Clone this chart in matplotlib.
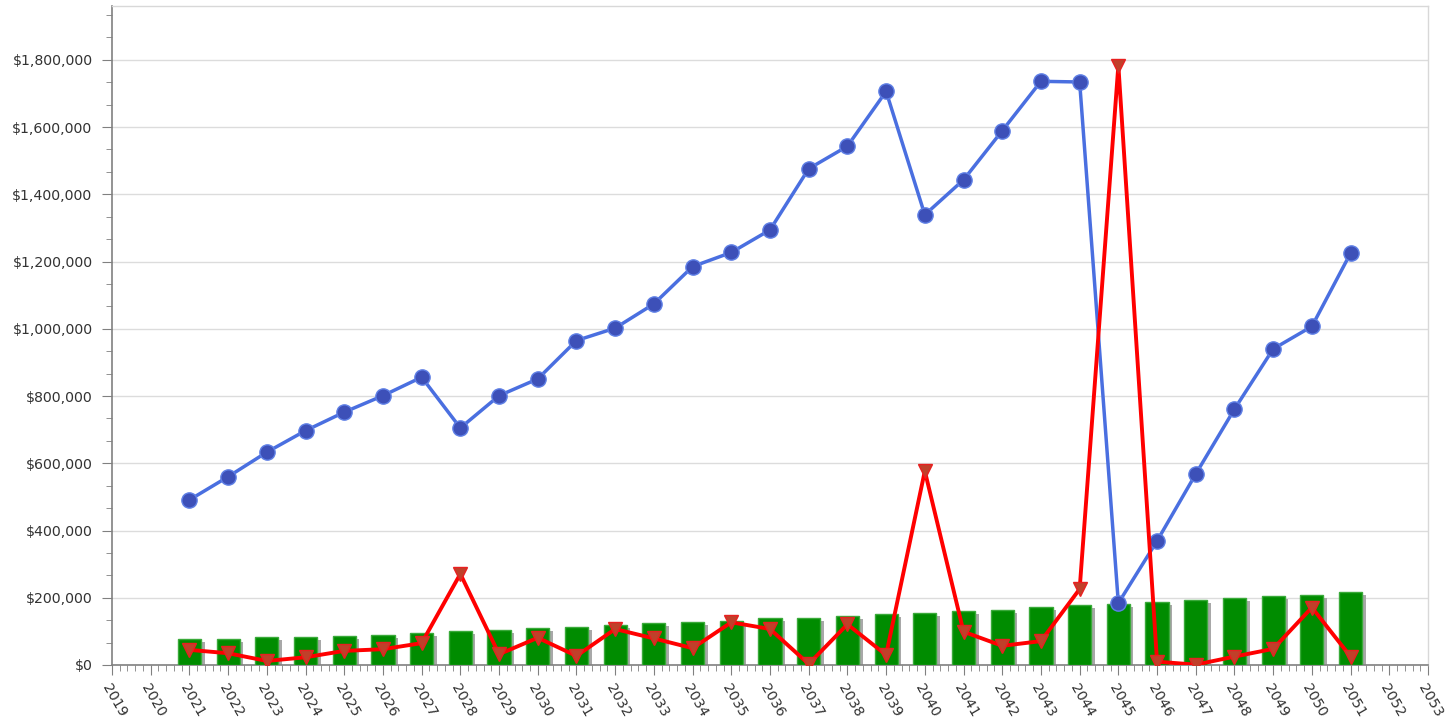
import matplotlib
matplotlib.use("Agg")
import matplotlib.pyplot as plt
from matplotlib.ticker import FuncFormatter, MultipleLocator, AutoMinorLocator
from matplotlib.transforms import offset_copy

years = list(range(2021, 2052))

blue_values = [491000, 560000, 633000, 697000, 752000, 801000, 856000, 705000,
               801000, 851000, 965000, 1002000, 1074000, 1185000, 1227000, 1294000,
               1476000, 1543000, 1706000, 1339000, 1443000, 1589000, 1736000, 1734000,
               184000, 369000, 568000, 761000, 940000, 1007000, 1225000]

red_values = [45000, 35000, 12000, 23000, 42000, 47000, 65000, 271000,
              32000, 81000, 27000, 107000, 79000, 50000, 127000, 107000,
              3000, 121000, 30000, 577000, 99000, 57000, 71000, 226000,
              1783000, 10000, 1000, 25000, 48000, 171000, 25000]

bar_values = [77000, 77000, 82000, 82000, 87000, 89000, 95000, 100000,
              105000, 110000, 114000, 119000, 125000, 127000, 132000, 141000,
              141000, 146000, 151000, 156000, 161000, 164000, 173000, 178000,
              182000, 187000, 193000, 199000, 204000, 209000, 218000]

x_min, x_max = 2019, 2053
y_max = 1960000

fig = plt.figure(figsize=(14.54, 7.26), dpi=100)
ax = fig.add_axes([112/1454, 1-665/726, (1428-112)/1454, (665-6)/726])

# bar shadows
shadow_tr = offset_copy(ax.transData, fig=fig, x=3.5, y=-3, units='dots')
ax.bar(years, bar_values, width=0.6, color='#a8a8a8', edgecolor='none',
       transform=shadow_tr, zorder=2)
ax.bar(years, bar_values, width=0.6, color='#008c00', edgecolor='#3aaa3a',
       linewidth=1, zorder=3)

ax.plot(years, blue_values, color='#4a6fe0', linewidth=2.5, marker='o',
        markersize=11, markerfacecolor='#3d50b8', markeredgecolor='#5f80e6',
        markeredgewidth=1, zorder=4)
ax.plot(years, red_values, color='#ff0000', linewidth=2.8, marker='v',
        markersize=10, markerfacecolor='#c0402a', markeredgecolor='#e82020',
        markeredgewidth=1, zorder=5)

ax.set_xlim(x_min, x_max)
ax.set_ylim(0, y_max)

ax.xaxis.set_major_locator(MultipleLocator(1))
ax.xaxis.set_minor_locator(AutoMinorLocator(5))
ax.yaxis.set_major_locator(MultipleLocator(200000))
ax.yaxis.set_minor_locator(AutoMinorLocator(3))
ax.yaxis.set_major_formatter(FuncFormatter(lambda v, p: f"${v:,.0f}"))

ax.grid(axis='y', which='major', color='#dcdcdc', linewidth=1)
ax.set_axisbelow(True)

for s in ['left', 'bottom']:
    ax.spines[s].set_color('#808080')
    ax.spines[s].set_linewidth(1.2)
for s in ['top', 'right']:
    ax.spines[s].set_color('#d8d8d8')
    ax.spines[s].set_linewidth(1)

ax.tick_params(axis='both', which='major', length=7, color='#808080',
               labelsize=10.2, labelcolor='#333333')
ax.tick_params(axis='y', which='major', pad=7)
ax.tick_params(axis='x', which='major', pad=5)
ax.tick_params(axis='both', which='minor', length=4, color='#808080')

for lbl in ax.get_xticklabels():
    lbl.set_rotation(-60)
    lbl.set_ha('left')
    lbl.set_va('top')
    lbl.set_rotation_mode('anchor')

fig.savefig('out.png', dpi=100)
